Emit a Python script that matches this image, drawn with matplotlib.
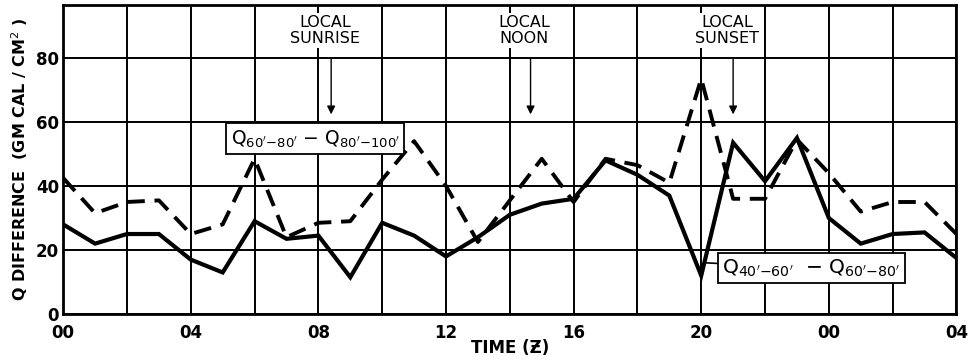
import numpy as np
import matplotlib
matplotlib.use("Agg")
import matplotlib.pyplot as plt

# hours after 00Z, running into the next day
hours = list(range(0, 29))
q_40_60_minus_60_80 = [28, 22, 25, 25, 17, 13, 29, 23.5, 24.5, 11.5, 28.5, 24.5, 18,
                       24, 31, 34.5, 36, 48, 43.5, 37, 12, 53.5, 41.5, 55, 30,
                       22, 25, 25.5, 17.5]
q_60_80_minus_80_100 = [42.5, 31.5, 35, 35.5, 25, 28, 48.5, 24, 28.5, 29, 42, 54, 40,
                        22.5, 35.5, 48.5, 35, 48.5, 46.5, 41, 73.5, 36, 36, 54.5, 44,
                        32, 35, 35, 25]

xtick_pos = [0, 4, 8, 12, 16, 20, 24, 28]
xtick_labels = ["00", "04", "08", "12", "16", "20", "00", "04"]
ytick_pos = [0, 20, 40, 60, 80]

events = ["LOCAL\nSUNRISE", "LOCAL\nNOON", "LOCAL\nSUNSET"]
event_hours = [8.4, 14.65, 21.0]

plt.rcParams["font.family"] = "DejaVu Sans"
plt.rcParams["mathtext.fontset"] = "dejavusans"

fig = plt.figure(figsize=(9.72, 3.61), dpi=100)
ax = fig.add_axes([0.065, 0.130, 0.919, 0.856])

ax.plot(hours, q_40_60_minus_60_80, color="black", lw=3.0,
        solid_joinstyle="miter", zorder=3)
ax.plot(hours, q_60_80_minus_80_100, color="black", lw=2.8,
        linestyle=(0, (4.5, 2.5)), zorder=3)

ax.set_xlim(0, 28)
ax.set_ylim(0, 96.5)
ax.set_xticks(xtick_pos)
ax.set_xticklabels(xtick_labels)
ax.set_xticks(np.arange(0, 29, 2), minor=True)
ax.set_yticks(ytick_pos)
ax.grid(which="both", color="black", lw=1.4, zorder=1)
ax.tick_params(which="both", length=0)
ax.tick_params(axis="x", pad=7, labelsize=12)
ax.tick_params(axis="y", pad=3, labelsize=12)
for lab in ax.get_xticklabels() + ax.get_yticklabels():
    lab.set_fontweight("bold")
for sp in ax.spines.values():
    sp.set_linewidth(2)

ax.set_xlabel("TIME (Ƶ)", fontsize=12, fontweight="bold", labelpad=-2)
ax.set_ylabel("Q DIFFERENCE  (GM CAL / CM$^2$ )", fontsize=11.5,
              fontweight="bold", labelpad=4)

# event markers with arrows
for label, h in zip(events, event_hours):
    ax.annotate("", xy=(h, 61.5), xytext=(h, 80.5),
                arrowprops=dict(arrowstyle="-|>", color="black", lw=1,
                                mutation_scale=12), zorder=4)
    ax.text(h - 0.2, 88.5, label, ha="center", va="center", fontsize=11.5,
            linespacing=1.05,
            bbox=dict(facecolor="white", edgecolor="none", pad=1.5), zorder=4)

# curve labels
ax.text(5.25, 54.7, r"Q$_{60'\mathregular{-}80'}$ $-$ Q$_{80'\mathregular{-}100'}$",
        ha="left", va="center", fontsize=13.5,
        bbox=dict(facecolor="white", edgecolor="black", lw=1.3, pad=3.5), zorder=5)
ax.annotate(r"Q$_{40'\mathregular{-}60'}$  $-$ Q$_{60'\mathregular{-}80'}$",
            xy=(20.15, 16), xytext=(20.65, 14.3), ha="left", va="center",
            fontsize=14.5,
            bbox=dict(facecolor="white", edgecolor="black", lw=1.3, pad=3),
            arrowprops=dict(arrowstyle="-", color="black", lw=1.2,
                            shrinkA=0, shrinkB=0), zorder=5)

fig.savefig("out.png", dpi=100)
